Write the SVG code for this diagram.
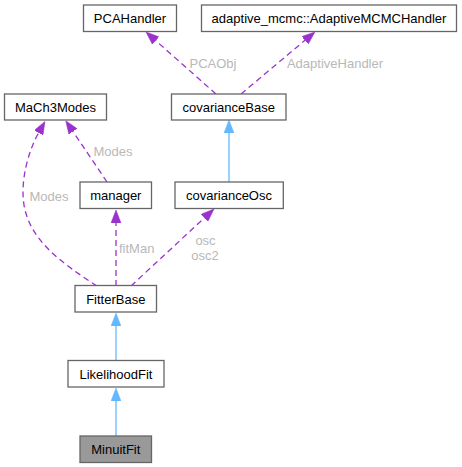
<svg xmlns="http://www.w3.org/2000/svg" width="462" height="467" viewBox="0 0 462 467">
<style>
  .node rect { fill: #ffffff; stroke: #666666; stroke-width: 1.3; }
  .node text { font-family: "Liberation Sans", Arial, Helvetica, sans-serif; font-size: 13px; fill: #000000; text-anchor: middle; }
  .inh { fill: none; stroke: #63b8ff; stroke-width: 1.3; }
  .use { fill: none; stroke: #9a32cd; stroke-width: 1.3; stroke-dasharray: 6,4; }
  .lbl { font-family: "Liberation Sans", Arial, Helvetica, sans-serif; font-size: 13px; fill: #b8b8b8; text-anchor: middle; }
</style>
<defs>
  <marker id="ah-blue" viewBox="0 0 13 10" refX="0" refY="5" markerWidth="13" markerHeight="10" markerUnits="userSpaceOnUse" orient="auto">
    <path d="M0,0 L13,5 L0,10 z" fill="#63b8ff" stroke="#63b8ff" stroke-width="0.5"/>
  </marker>
  <marker id="ah-purple" viewBox="0 0 13 10" refX="0" refY="5" markerWidth="13" markerHeight="10" markerUnits="userSpaceOnUse" orient="auto">
    <path d="M0,0 L13,5 L0,10 z" fill="#9a32cd" stroke="#9a32cd" stroke-width="0.5"/>
  </marker>
</defs>
<g id="edges">
  <path class="use" d="M216,94 L155.7,40.6" marker-end="url(#ah-purple)"/>
  <text class="lbl" x="213" y="68">PCAObj</text>
  <path class="use" d="M241,94 L305,40.3" marker-end="url(#ah-purple)"/>
  <text class="lbl" x="335" y="68">AdaptiveHandler</text>
  <path class="inh" d="M229,182 L229,133" marker-end="url(#ah-blue)"/>
  <path class="use" d="M107,182 L73,131.5" marker-end="url(#ah-purple)"/>
  <text class="lbl" x="113" y="156">Modes</text>
  <path class="use" d="M97,286 C60,262 30,240 24,205 C20,180 28.8,150.2 38.6,132.8" marker-end="url(#ah-purple)"/>
  <text class="lbl" x="49" y="200.5">Modes</text>
  <path class="use" d="M116,286 L116,223" marker-end="url(#ah-purple)"/>
  <text class="lbl" x="119" y="252.5" style="text-anchor:start">fitMan</text>
  <path class="use" d="M131,286 L204.5,217.8" marker-end="url(#ah-purple)"/>
  <text class="lbl" x="205.5" y="245">osc</text>
  <text class="lbl" x="205" y="259.5">osc2</text>
  <path class="inh" d="M116,360.5 L116,326" marker-end="url(#ah-blue)"/>
  <path class="inh" d="M116,436 L116,401" marker-end="url(#ah-blue)"/>
</g>
<g id="PCAHandler" class="node"><rect x="83.5" y="5" width="93" height="26.5"/><text x="130" y="23">PCAHandler</text></g>
<g id="AdaptiveMCMCHandler" class="node"><rect x="201.5" y="5" width="255" height="26.5"/><text x="329" y="23">adaptive_mcmc::AdaptiveMCMCHandler</text></g>
<g id="MaCh3Modes" class="node"><rect x="4.5" y="94" width="102" height="26"/><text x="55.5" y="112">MaCh3Modes</text></g>
<g id="covarianceBase" class="node"><rect x="171.5" y="94" width="114.5" height="26"/><text x="228.7" y="112">covarianceBase</text></g>
<g id="manager" class="node"><rect x="80" y="182" width="71.5" height="26.5"/><text x="115.8" y="200">manager</text></g>
<g id="covarianceOsc" class="node"><rect x="175" y="182" width="108.3" height="26.5"/><text x="229" y="200">covarianceOsc</text></g>
<g id="FitterBase" class="node"><rect x="75" y="285.5" width="81.5" height="26.5"/><text x="115.8" y="303.5">FitterBase</text></g>
<g id="LikelihoodFit" class="node"><rect x="68" y="360.5" width="96" height="26.5"/><text x="116" y="378.5">LikelihoodFit</text></g>
<g id="MinuitFit" class="node"><rect x="80" y="436" width="71.5" height="26.5" style="fill:#999999"/><text x="115.8" y="454">MinuitFit</text></g>
</svg>
